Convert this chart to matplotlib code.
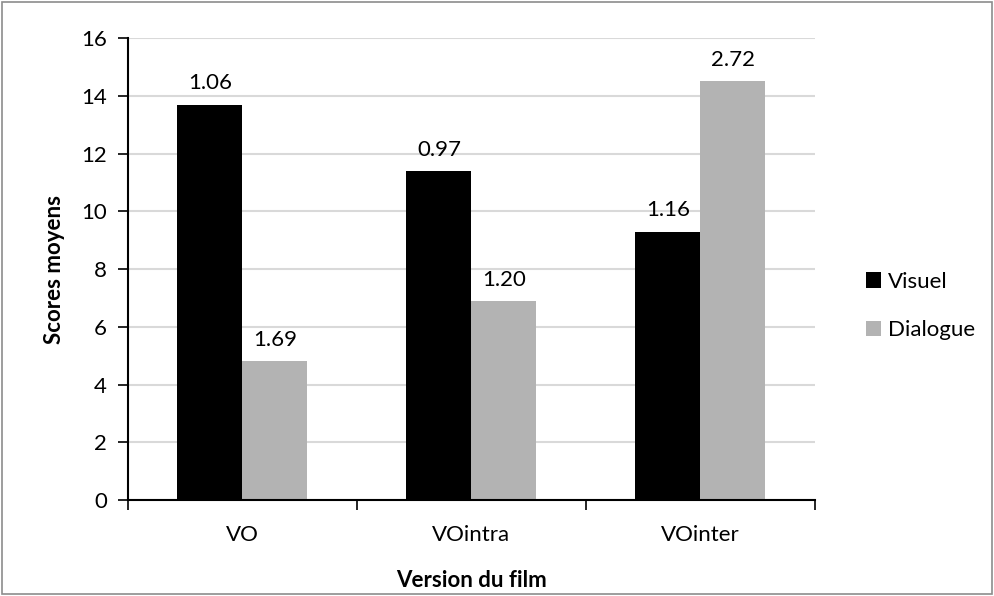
import numpy as np
import matplotlib.pyplot as plt
from matplotlib.patches import Rectangle

plt.rcParams['font.family'] = ['Lato', 'DejaVu Sans']

versions = ['VO', 'VOintra', 'VOinter']
visuel = [13.7, 11.4, 9.3]
dialogue = [4.8, 6.9, 14.5]
visuel_labels = ['1.06', '0.97', '1.16']
dialogue_labels = ['1.69', '1.20', '2.72']

fs = 16

fig = plt.figure(figsize=(9.95, 5.96), dpi=100)
ax = fig.add_axes([0.1286, 0.161, 0.6904, 0.775])

x = np.arange(len(versions))
w = 0.284
b1 = ax.bar(x - w / 2, visuel, w, color='black', label='Visuel', zorder=3)
b2 = ax.bar(x + w / 2, dialogue, w, color='#b3b3b3', label='Dialogue', zorder=3)

for bars, labs in [(b1, visuel_labels), (b2, dialogue_labels)]:
    for bar, lab in zip(bars, labs):
        ax.annotate(lab, (bar.get_x() + bar.get_width() / 2, bar.get_height()),
                    xytext=(0, 8), textcoords='offset points',
                    ha='center', va='bottom', fontsize=fs)

ax.set_xlim(-0.5, 2.5)
ax.set_ylim(0, 16)
ax.set_yticks(range(0, 17, 2))
ax.tick_params(axis='y', labelsize=fs, length=7, width=1.2, direction='out', pad=8)
ax.set_xticks(x)
ax.set_xticklabels(versions, fontsize=fs)
ax.set_xticks([-0.5, 0.5, 1.5, 2.5], minor=True)
ax.tick_params(axis='x', which='major', length=0, pad=18)
ax.tick_params(axis='x', which='minor', length=7, width=1.2, direction='out')

ax.yaxis.grid(True, color='#d9d9d9', linewidth=1.5, zorder=0)
ax.set_axisbelow(True)
for s in ['top', 'right']:
    ax.spines[s].set_visible(False)
for s in ['left', 'bottom']:
    ax.spines[s].set_linewidth(1.5)
    ax.spines[s].set_zorder(4)

ax.set_ylabel('Scores moyens', fontsize=fs, fontweight='bold', labelpad=12)
ax.set_xlabel('Version du film', fontsize=fs, fontweight='bold', labelpad=18)

ax.legend(loc='center left', bbox_to_anchor=(1.045, 0.42), frameon=False,
          fontsize=fs, handlelength=0.7, handleheight=0.7, handletextpad=0.3,
          labelspacing=1.3)

fig.patches.append(Rectangle((0.002, 0.003), 0.995, 0.994, transform=fig.transFigure,
                             fill=False, edgecolor='#8c8c8c', linewidth=1.2))

fig.savefig('out.png', dpi=100)
